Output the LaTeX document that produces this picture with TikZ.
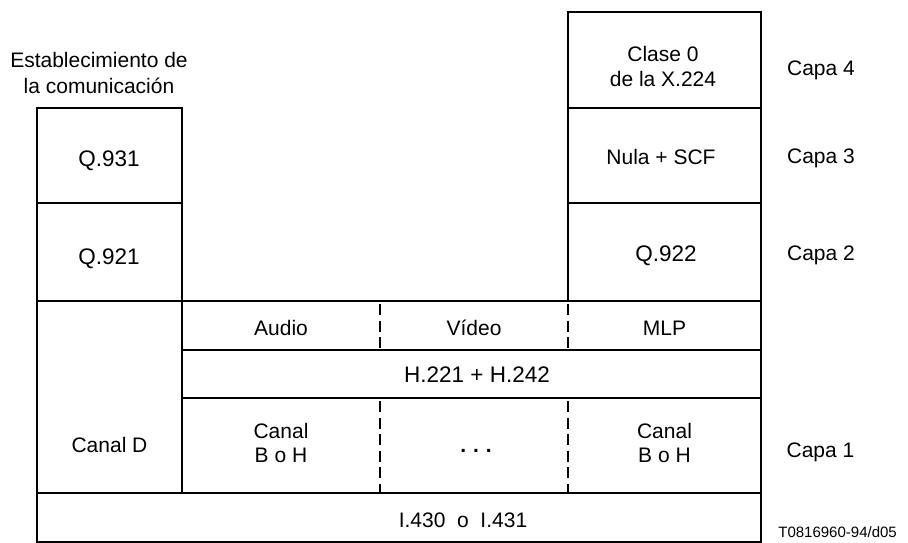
\documentclass[tikz,border=0pt]{standalone}
\usepackage{fontspec}
\setmainfont{Liberation Sans}
\begin{document}
\begin{tikzpicture}[x=1pt,y=-1pt,
  box/.style={draw=black,line width=1.3pt,rectangle,inner sep=0pt,outer sep=0pt},
  cell/.style={rectangle,inner sep=0pt,outer sep=0pt},
  sep/.style={draw=black,line width=1.3pt,dash pattern=on 11pt off 5.5pt,dash phase=-3pt},
  txt/.style={font=\fontsize{21}{24}\selectfont,anchor=base,inner sep=0pt},
  big/.style={font=\fontsize{22.5}{26}\selectfont,anchor=base,inner sep=0pt},
  small/.style={font=\fontsize{15}{18}\selectfont,anchor=base east,inner sep=0pt}]
\useasboundingbox[fill=white] (0,0) rectangle (908,543);
% boxes
\node[box,minimum width=145pt,minimum height=95pt] (q931b) at (109.5,155.5) {};
\node[box,minimum width=145pt,minimum height=98pt] (q921b) at (109.5,252) {};
\node[box,minimum width=145pt,minimum height=192pt] (canalDb) at (109.5,397) {};
\node[box,minimum width=724pt,minimum height=49pt] (bottomb) at (399,517.5) {};
\node[box,minimum width=193pt,minimum height=96pt] (claseb) at (664.5,60) {};
\node[box,minimum width=193pt,minimum height=95pt] (nulab) at (664.5,155.5) {};
\node[box,minimum width=193pt,minimum height=98pt] (q922b) at (664.5,252) {};
\node[box,minimum width=579pt,minimum height=49pt] (rowA) at (471.5,325.5) {};
\node[box,minimum width=579pt,minimum height=48pt] (rowH) at (471.5,374) {};
\node[box,minimum width=579pt,minimum height=95pt] (rowC) at (471.5,445.5) {};
% cells for the dashed separators
\node[cell,minimum width=198pt,minimum height=49pt] (audioc) at (281,325.5) {};
\node[cell,minimum width=188pt,minimum height=49pt] (videoc) at (474,325.5) {};
\node[cell,minimum width=198pt,minimum height=95pt] (canal1c) at (281,445.5) {};
\node[cell,minimum width=188pt,minimum height=95pt] (dotsc) at (474,445.5) {};
\draw[sep] (audioc.north east) -- (audioc.south east);
\draw[sep] (videoc.north east) -- (videoc.south east);
\draw[sep] (canal1c.north east) -- (canal1c.south east);
\draw[sep] (dotsc.north east) -- (dotsc.south east);
% texts
\node[txt] (est1) at (99,68) {Establecimiento de};
\node[txt] (est2) at (99,93) {la comunicación};
\node[big] (q931) at (109,166.5) {Q.931};
\node[big] (q921) at (109,264) {Q.921};
\node[txt] (clase1) at (663,62) {Clase 0};
\node[txt] (clase2) at (663,86) {de la X.224};
\node[txt] (nula) at (661,164) {Nula + SCF};
\node[big] (q922) at (666,261) {Q.922};
\node[txt] (capa4) at (821,75) {Capa 4};
\node[txt] (capa3) at (821,163) {Capa 3};
\node[txt] (capa2) at (821,260) {Capa 2};
\node[txt] (capa1) at (820.5,457) {Capa 1};
\node[txt] (audio) at (281,335) {Audio};
\node[txt] (video) at (474,335) {Vídeo};
\node[txt] (mlp) at (664.5,335) {MLP};
\node[big] (h221) at (477,382) {H.221 + H.242};
\node[txt] (canal1a) at (281,438) {Canal};
\node[txt] (canal1b) at (281,462) {B o H};
\node[txt] (canal2a) at (664.5,438) {Canal};
\node[txt] (canal2b) at (664.5,462) {B o H};
\node[txt,font=\fontsize{21}{24}\selectfont\bfseries] (dots) at (476,452) {.\hspace{7pt}.\hspace{7pt}.};
\node[txt] (canalD) at (109.5,452) {Canal D};
\node[txt] (i430) at (463,527) {I.430 \ o \ I.431};
\node[small] (tag) at (897,537) {T0816960-94/d05};
\end{tikzpicture}
\end{document}
